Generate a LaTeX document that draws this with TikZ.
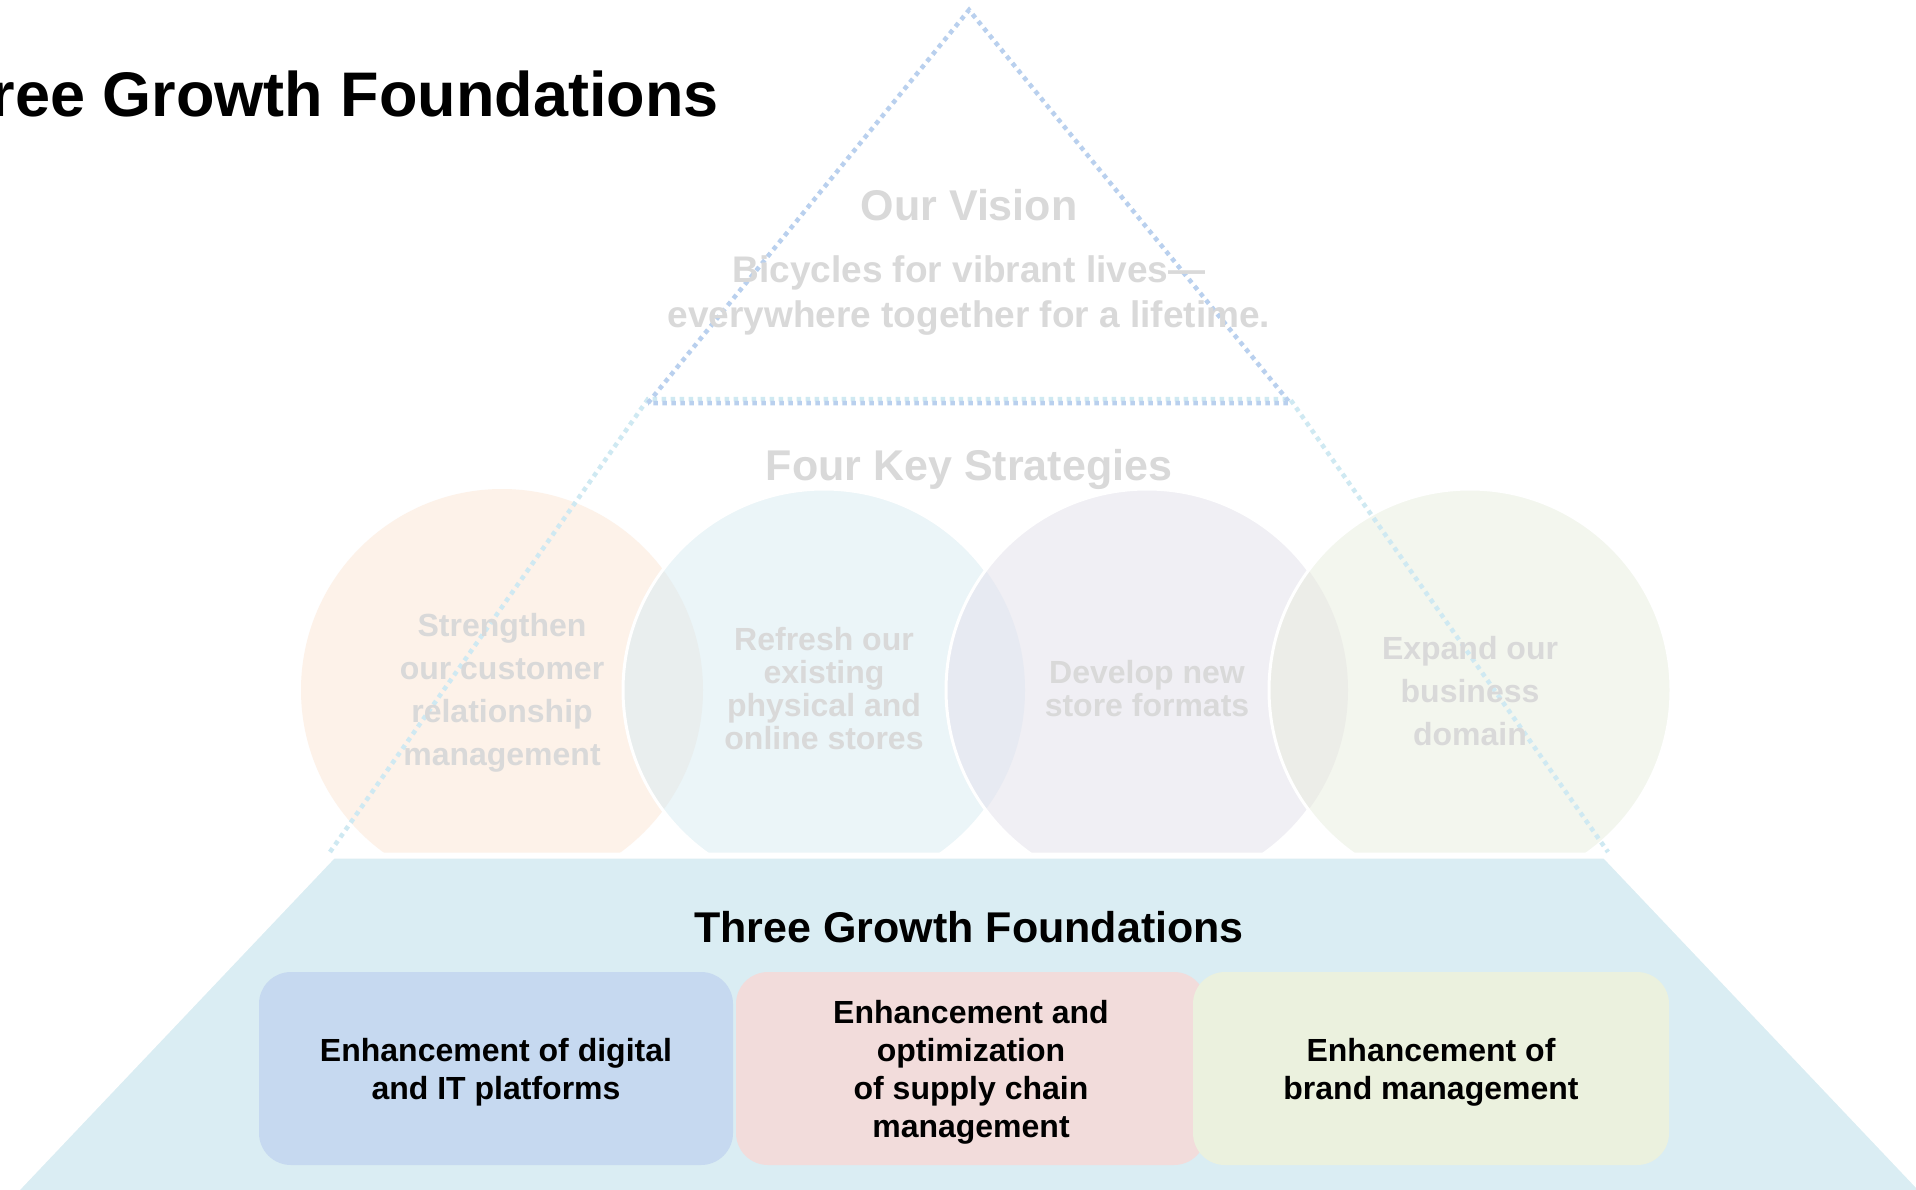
\documentclass[tikz,border=0pt]{standalone}
\usepackage{fontspec}
\setmainfont{Liberation Sans}
\definecolor{fadegray}{HTML}{D9D9D9}
\definecolor{visblue}{HTML}{B9D0EE}
\definecolor{strcyan}{HTML}{CFE9F2}
\definecolor{cA}{HTML}{FDF2E9}
\definecolor{cB}{HTML}{EBF5F8}
\definecolor{cC}{HTML}{F0EFF4}
\definecolor{cD}{HTML}{F3F6EE}
\definecolor{oAB}{HTML}{E9EEEE}
\definecolor{oBC}{HTML}{E7EAF2}
\definecolor{oCD}{HTML}{ECEDE8}
\definecolor{foundcol}{HTML}{DAEDF3}
\definecolor{boxA}{HTML}{C6D9F0}
\definecolor{boxB}{HTML}{F2DCDB}
\definecolor{boxC}{HTML}{EBF1DE}
\begin{document}
\begin{tikzpicture}[x=1pt,y=-1pt,
  dotline/.style={line width=4.5pt, dash pattern=on 4.5pt off 4.5pt},
  fadetext/.style={text=fadegray, font=\bfseries\fontsize{32}{43}\selectfont, align=center, inner sep=0pt},
  fadetight/.style={text=fadegray, font=\bfseries\fontsize{32}{33}\selectfont, align=center, inner sep=0pt},
  fadehead/.style={text=fadegray, font=\bfseries\fontsize{43}{50}\selectfont, inner sep=0pt},
  fbox/.style={rounded corners=32pt, minimum height=193pt, inner sep=0pt},
  boxtext/.style={align=center, inner sep=0pt, font=\bfseries\fontsize{32}{38}\selectfont, text=black},
  whiteedge/.style={draw=white, line width=3pt}]
\clip (0,0) rectangle (1916,1189);
\fill[white] (0,0) rectangle (1916,1189);

% circle centres
\coordinate (s1) at (502,690);
\coordinate (s2) at (824,690);
\coordinate (s3) at (1147,690);
\coordinate (s4) at (1470,690);

% strategy circles with overlaps
\fill[cA] (s1) circle (201);
\fill[cB] (s2) circle (201);
\begin{scope}\clip (s1) circle (201); \fill[oAB] (s2) circle (201);\end{scope}
\draw[whiteedge] (s2) circle (201);
\fill[cC] (s3) circle (201);
\begin{scope}\clip (s2) circle (201); \fill[oBC] (s3) circle (201);\end{scope}
\draw[whiteedge] (s3) circle (201);
\fill[cD] (s4) circle (201);
\begin{scope}\clip (s3) circle (201); \fill[oCD] (s4) circle (201);\end{scope}
\draw[whiteedge] (s4) circle (201);

% foundation trapezoid
\filldraw[fill=foundcol, draw=white, line width=6pt]
  (333,855.5) -- (1605,855.5) -- (1927,1195) -- (11,1195) -- cycle;

% vision triangle and strategies trapezoid (dotted)
\coordinate (apex) at (969,10);
\coordinate (vl) at (648,403);
\coordinate (vr) at (1290,403);
\coordinate (tl) at (648,399);
\coordinate (tr) at (1290,399);
\coordinate (bl) at (330,852);
\coordinate (br) at (1608,852);
\draw[dotline, strcyan] (bl) -- (tl) -- (tr) -- (br);
\draw[dotline, visblue] (vl) -- (apex) -- (vr) -- cycle;

% faded texts
\node[fadehead, anchor=base] (vis) at (969,220) {Our Vision};
\node[text=fadegray, font=\bfseries\fontsize{37}{45}\selectfont, align=center, inner sep=0pt]
  (vistext) at (969,296) {Bicycles for vibrant lives—\\everywhere together for a lifetime.};
\node[fadehead, anchor=base] (strat) at (969,480) {Four Key Strategies};
\node[fadetext] (t1) at (502,693) {Strengthen\\our customer\\relationship\\management};
\node[fadetight] (t2) at (824,689) {Refresh our\\existing\\physical and\\online stores};
\node[fadetight] (t3) at (1147,689) {Develop new\\store formats};
\node[fadetext] (t4) at (1470,691) {Expand our\\business\\domain};

% foundations
\node[font=\bfseries\fontsize{43}{50}\selectfont, anchor=base, inner sep=0pt] (found) at (969,942) {Three Growth Foundations};
\node[fbox, fill=boxA, minimum width=474pt] (b1) at (496,1068.5) {};
\node[fbox, fill=boxB, minimum width=470pt] (b2) at (971,1068.5) {};
\node[fbox, fill=boxC, minimum width=476pt] (b3) at (1431,1068.5) {};
\node[boxtext] (b1t) at ([yshift=-4pt]b1.center) {Enhancement of digital\\and IT platforms};
\node[boxtext] (b2t) at ([yshift=-4pt]b2.center) {Enhancement and\\optimization\\of supply chain\\management};
\node[boxtext] (b3t) at ([yshift=-4pt]b3.center) {Enhancement of\\brand management};

% page title (cut at the left edge)
\node[font=\bfseries\fontsize{63}{76}\selectfont, anchor=base east, inner sep=0pt] (title) at (719,116) {Three Growth Foundations};
\end{tikzpicture}
\end{document}
